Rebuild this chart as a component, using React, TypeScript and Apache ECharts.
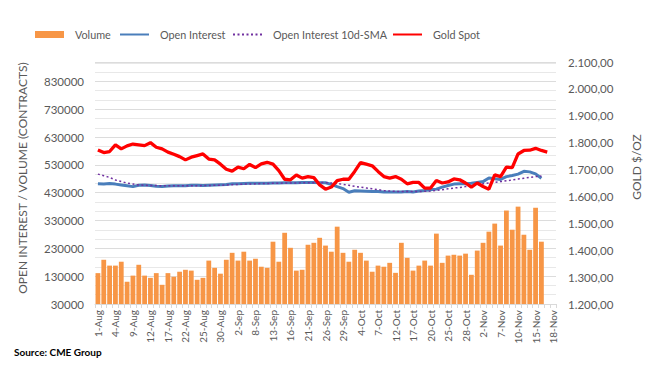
import React, { useEffect, useRef } from "react";
import * as echarts from "echarts";

const categories = [
  "1-Aug","2-Aug","3-Aug","4-Aug","5-Aug","8-Aug","9-Aug","10-Aug","11-Aug","12-Aug",
  "15-Aug","16-Aug","17-Aug","18-Aug","19-Aug","22-Aug","23-Aug","24-Aug","25-Aug","26-Aug",
  "29-Aug","30-Aug","31-Aug","1-Sep","2-Sep","6-Sep","7-Sep","8-Sep","9-Sep","12-Sep",
  "13-Sep","14-Sep","15-Sep","16-Sep","19-Sep","20-Sep","21-Sep","22-Sep","23-Sep","26-Sep",
  "27-Sep","28-Sep","29-Sep","30-Sep","3-Oct","4-Oct","5-Oct","6-Oct","7-Oct","10-Oct",
  "11-Oct","12-Oct","13-Oct","14-Oct","17-Oct","18-Oct","19-Oct","20-Oct","21-Oct","24-Oct",
  "25-Oct","26-Oct","27-Oct","28-Oct","31-Oct","1-Nov","2-Nov","3-Nov","4-Nov","7-Nov",
  "8-Nov","9-Nov","10-Nov","11-Nov","14-Nov","15-Nov","16-Nov","17-Nov","18-Nov",
];

const volume = [
  141000, 189000, 168000, 168000, 182000, 110000, 132000, 171000, 132000, 124000,
  141000, 99000, 141000, 128000, 146000, 153000, 150000, 117000, 124000, 186000,
  160000, 139000, 189000, 214000, 186000, 218000, 186000, 193000, 164000, 160000,
  254000, 182000, 286000, 232000, 150000, 153000, 243000, 250000, 268000, 240000,
  218000, 308000, 214000, 182000, 225000, 214000, 186000, 146000, 168000, 164000,
  178000, 142000, 250000, 196000, 150000, 168000, 186000, 168000, 283000, 178000,
  204000, 207000, 204000, 211000, 135000, 222000, 250000, 290000, 319000, 240000,
  366000, 297000, 380000, 279000, 225000, 376000, 254000,
];

const openInterest = [
  462000, 461000, 463000, 461000, 458000, 455000, 452000, 457000, 458000, 456000,
  453000, 452000, 454000, 455000, 455000, 455000, 457000, 457000, 456000, 457000,
  458000, 459000, 460000, 462000, 462000, 463000, 464000, 464000, 464000, 464000,
  465000, 465000, 466000, 466000, 466000, 467000, 467000, 467000, 466000, 466000,
  460000, 452000, 445000, 432000, 437000, 436000, 435000, 434000, 434000, 433000,
  433000, 433000, 433000, 434000, 433000, 436000, 438000, 441000, 443000, 450000,
  456000, 461000, 462000, 462000, 464000, 467000, 470000, 483000, 480000, 478000,
  488000, 492000, 497000, 507000, 505000, 498000, 482000,
];

const openInterestSma = [
  497000, 491000, 485000, 476000, 470000, 465000, 461000, 458000, 457000, 456000,
  456000, 455000, 455000, 455000, 455000, 455000, 455000, 455000, 456000, 456000,
  457000, 457000, 458000, 459000, 460000, 461000, 461000, 462000, 463000, 463000,
  464000, 464000, 465000, 465000, 465000, 466000, 466000, 466000, 467000, 466000,
  465000, 463000, 460000, 457000, 453000, 450000, 447000, 444000, 441000, 438000,
  436000, 435000, 434000, 434000, 434000, 434000, 435000, 436000, 438000, 441000,
  444000, 447000, 449000, 452000, 455000, 458000, 462000, 465000, 467000, 470000,
  473000, 476000, 479000, 482000, 485000, 488000, 490000,
];

const goldSpot = [
  1773, 1763, 1767, 1792, 1777, 1788, 1795, 1792, 1789, 1800,
  1783, 1777, 1765, 1757, 1748, 1736, 1746, 1752, 1758, 1739,
  1736, 1720, 1701, 1694, 1709, 1703, 1719, 1707, 1721, 1727,
  1720, 1696, 1664, 1662, 1680, 1668, 1674, 1670, 1643, 1627,
  1635, 1659, 1664, 1664, 1693, 1726, 1720, 1714, 1693, 1674,
  1668, 1674, 1664, 1647, 1652, 1652, 1631, 1631, 1659, 1650,
  1654, 1665, 1662, 1650, 1635, 1650, 1637, 1627, 1680, 1674,
  1709, 1707, 1758, 1771, 1772, 1779, 1771, 1765,
];

const FONT = "Lato, 'Open Sans', sans-serif";
const GREY = "#595959";

function fmtGold(v: number): string {
  const [i, d] = v.toFixed(2).split(".");
  return i.replace(/\B(?=(\d{3})+(?!\d))/g, ".") + "," + d;
}

const hiddenSymbol = { opacity: 0, borderWidth: 0 };

const legendItems = [
  { name: "Volume", icon: "rect", left: 35 },
  { name: "Open Interest", left: 119 },
  { name: "Open Interest 10d-SMA", left: 232 },
  { name: "Gold Spot", left: 392 },
];

export default function App() {
  const ref = useRef<HTMLDivElement>(null);
  useEffect(() => {
    document.body.style.margin = "0";
    const chart = echarts.init(ref.current!, null, { renderer: "svg" });
    chart.setOption({
      animation: false,
      backgroundColor: "#ffffff",
      textStyle: { fontFamily: FONT },
      grid: { left: 95, right: 102, top: 62, bottom: 71, containLabel: false },
      legend: legendItems.map((it) => ({
        left: it.left,
        top: 29,
        padding: 0,
        itemWidth: 29,
        itemHeight: 7,
        selectedMode: false,
        textStyle: { fontFamily: FONT, fontSize: 10.8, color: GREY, padding: [0, 0, 0, 6] },
        data: [
          it.icon
            ? { name: it.name, icon: it.icon }
            : { name: it.name, itemStyle: hiddenSymbol },
        ],
      })),
      xAxis: {
        type: "category",
        data: categories,
        boundaryGap: true,
        axisLine: { show: true, lineStyle: { color: "#D9D9D9", width: 1 } },
        axisTick: { show: true, interval: 0, length: 4, lineStyle: { color: "#D9D9D9" } },
        axisLabel: {
          interval: 2,
          rotate: 90,
          fontSize: 10,
          color: GREY,
          fontFamily: FONT,
          margin: 6,
        },
        splitLine: { show: false },
      },
      yAxis: [
        {
          type: "value",
          min: 30000,
          max: 900000,
          interval: 100000,
          axisLine: { show: false },
          axisTick: { show: false },
          axisLabel: {
            color: GREY,
            fontSize: 11.5,
            fontFamily: FONT,
            margin: 11,
            showMaxLabel: false,
            formatter: (v: number) => String(Math.round(v)),
          },
          splitLine: { show: true, lineStyle: { color: "#DCDCDC", width: 1 } },
          minorTick: { show: false, splitNumber: 3 },
          minorSplitLine: { show: true, lineStyle: { color: "#E8E8E8", width: 1 } },
        },
        {
          type: "value",
          min: 1200,
          max: 2100,
          interval: 100,
          position: "right",
          axisLine: { show: false },
          axisTick: { show: false },
          axisLabel: {
            color: GREY,
            fontSize: 11.5,
            fontFamily: FONT,
            margin: 12,
            formatter: (v: number) => fmtGold(v),
          },
          splitLine: { show: false },
        },
      ],
      series: [
        {
          name: "Volume",
          type: "bar",
          yAxisIndex: 0,
          data: volume,
          barCategoryGap: "18%",
          itemStyle: { color: "#F79646" },
          z: 1,
        },
        {
          name: "Open Interest",
          type: "line",
          yAxisIndex: 0,
          data: openInterest,
          symbol: "none",
          showSymbol: false,
          lineStyle: { color: "#4A7EBB", width: 3 },
          itemStyle: { color: "#4A7EBB" },
          z: 3,
        },
        {
          name: "Open Interest 10d-SMA",
          type: "line",
          yAxisIndex: 0,
          data: openInterestSma,
          symbol: "none",
          showSymbol: false,
          lineStyle: { color: "#7030A0", width: 1.5, type: [2, 2.5] },
          itemStyle: { color: "#7030A0" },
          z: 4,
        },
        {
          name: "Gold Spot",
          type: "line",
          yAxisIndex: 1,
          data: goldSpot,
          symbol: "none",
          showSymbol: false,
          lineStyle: { color: "#FF0000", width: 3.3 },
          itemStyle: { color: "#FF0000" },
          z: 5,
        },
      ],
      graphic: [
        {
          type: "text",
          x: 22,
          y: 178,
          rotation: Math.PI / 2,
          style: {
            text: "OPEN INTEREST / VOLUME (CONTRACTS)",
            font: `12px ${FONT}`,
            fill: GREY,
            textAlign: "center",
            textVerticalAlign: "middle",
          },
        },
        {
          type: "text",
          x: 636,
          y: 167,
          rotation: Math.PI / 2,
          style: {
            text: "GOLD $/OZ",
            font: `12px ${FONT}`,
            fill: GREY,
            textAlign: "center",
            textVerticalAlign: "middle",
          },
        },
        {
          type: "text",
          x: 14,
          y: 352,
          style: {
            text: "Source: CME Group",
            font: `bold 10px ${FONT}`,
            fill: "#000000",
            textAlign: "left",
            textVerticalAlign: "middle",
          },
        },
      ],
    });
    return () => chart.dispose();
  }, []);
  return <div ref={ref} style={{ width: 658, height: 375 }} />;
}
